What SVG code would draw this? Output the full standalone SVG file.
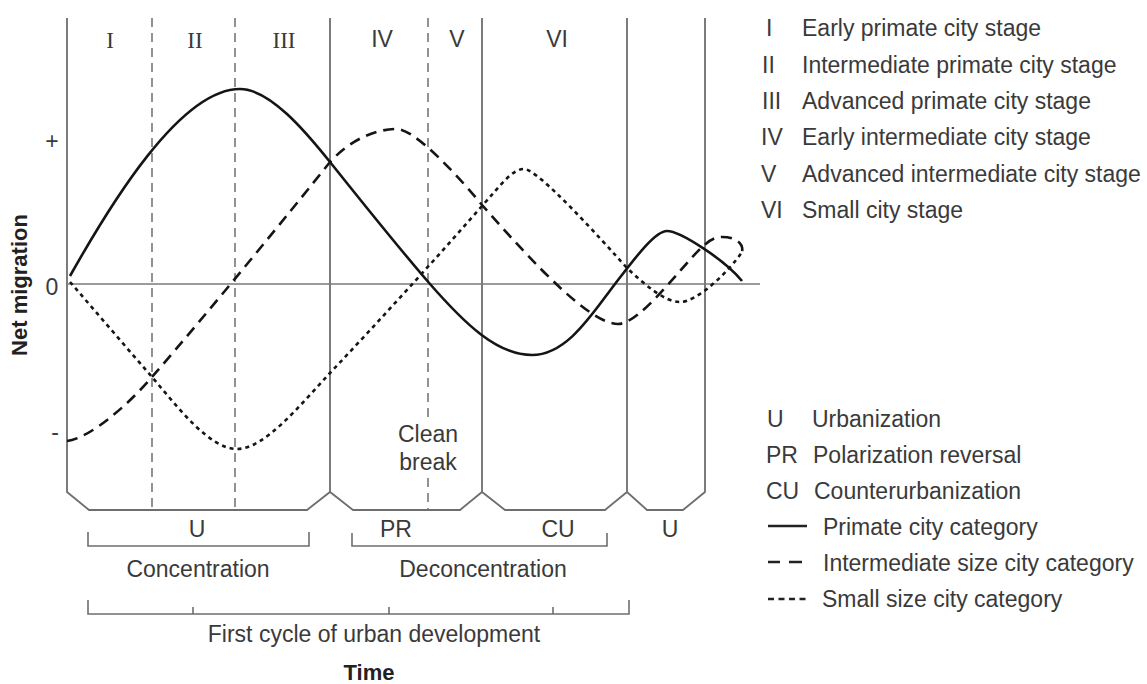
<svg xmlns="http://www.w3.org/2000/svg" width="1147" height="684" viewBox="0 0 1147 684">
<style>
text{font-family:"Liberation Sans",Arial,sans-serif;font-size:23px;fill:#3a3a3a}
.serif{font-family:"Liberation Serif","Times New Roman",serif;font-size:23px}
.b{font-weight:bold;font-size:22px;fill:#222}
.mid{text-anchor:middle}
.frame{fill:none;stroke:#6e6e6e;stroke-width:1.8}
.vdash{fill:none;stroke:#777;stroke-width:1.6;stroke-dasharray:9 6}
.axis{fill:none;stroke:#7a7a7a;stroke-width:1.6}
.primate{fill:none;stroke:#151515;stroke-width:2.6}
.inter{fill:none;stroke:#151515;stroke-width:2.6;stroke-dasharray:11 7}
.small{fill:none;stroke:#151515;stroke-width:2.6;stroke-dasharray:4 4}
.brk{fill:none;stroke:#6e6e6e;stroke-width:1.6}
</style>
<rect width="1147" height="684" fill="#fff"/>
<g id="frame">
<path class="frame" d="M67,18 V492 L89,510 H307 L330,492 L353,510 H460 L482,492 L505,510 H605 L627,492 L647,510 H683 L705,492 V18 M330,18 V492 M482,18 V492 M627,18 V492"/>
<path class="vdash" d="M152,18 V510 M235,18 V510 M428,18 V420 M428,478 V510"/>
<path class="axis" d="M67,284 H760"/>
</g>
<g id="stage-labels">
<text class="serif mid" x="110" y="48">I</text>
<text class="serif mid" x="195" y="48">II</text>
<text class="serif mid" x="284" y="48">III</text>
<text class="mid" x="382" y="47">IV</text>
<text class="mid" x="457" y="47">V</text>
<text class="mid" x="557" y="47">VI</text>
</g>
<g id="y-axis">
<text class="mid" x="52" y="149">+</text>
<text class="mid" x="52" y="295">0</text>
<text class="mid" x="55" y="440">-</text>
<text class="b mid" transform="translate(27,285) rotate(-90)">Net migration</text>
</g>
<g id="curves">
<path id="primate-curve" class="primate" d="M70,276 C110,205 180,89 240,89 C270,89 306,132 330,162 C363,203 397,246 430,284 C465,324 497,355 532,355 C567,355 592,314 615,284 C635,258 655,231 667,231 C680,231 725,260 742,281"/>
<path id="intermediate-curve" class="inter" d="M67,441 C90,438 127,406 152,377 C212,308 290,212 330,162 C350,140 375,129 397,129 C415,129 460,178 482,205 C535,265 590,324 618,324 C640,324 680,268 702,247 C710,240 715,237 722,237 C735,237 744,243 742,252"/>
<path id="small-curve" class="small" d="M70,282 C97,313 125,346 152,377 C180,410 210,449 237,449 C265,449 300,405 330,373 C380,320 432,263 482,206 C500,186 512,169 524,169 C538,169 600,238 627,268 C645,285 665,302 680,302 C698,302 730,270 742,252"/>
</g>
<g id="clean-break">
<text class="mid" x="428" y="442">Clean</text>
<text class="mid" x="428" y="470">break</text>
</g>
<g id="phase-labels">
<text class="mid" x="197" y="537">U</text>
<text class="mid" x="396" y="537">PR</text>
<text class="mid" x="558" y="537">CU</text>
<text class="mid" x="670" y="537">U</text>
</g>
<g id="brackets">
<path class="brk" d="M88,532 V546 H309 V532"/>
<path class="brk" d="M352,533 V546 H607 V533"/>
<path class="brk" d="M88,600 V614 H629 V600 M193,607 V614 M389,607 V614 M553,607 V614"/>
<text class="mid" x="198" y="577">Concentration</text>
<text class="mid" x="483" y="577">Deconcentration</text>
<text class="mid" x="374" y="642">First cycle of urban development</text>
<text class="b mid" x="369" y="680">Time</text>
</g>
<g id="legend-stages">
<text x="766" y="36">I</text><text x="802" y="36">Early primate city stage</text>
<text x="762" y="72.5">II</text><text x="802" y="72.5">Intermediate primate city stage</text>
<text x="762" y="108.5">III</text><text x="802" y="108.5">Advanced primate city stage</text>
<text x="761" y="145">IV</text><text x="802" y="145">Early intermediate city stage</text>
<text x="761" y="181.5">V</text><text x="802" y="181.5">Advanced intermediate city stage</text>
<text x="761" y="218">VI</text><text x="802" y="218">Small city stage</text>
</g>
<g id="legend-phases">
<text x="767" y="427">U</text><text x="812" y="427">Urbanization</text>
<text x="766" y="463">PR</text><text x="813" y="463">Polarization reversal</text>
<text x="766" y="499">CU</text><text x="814" y="499">Counterurbanization</text>
<path d="M768,526 H807" stroke="#222" stroke-width="2.4"/>
<text x="823" y="535">Primate city category</text>
<path d="M768,562 H780 M789,562 H802" stroke="#222" stroke-width="2.4"/>
<text x="823" y="571">Intermediate size city category</text>
<path d="M768,599 H808" stroke="#222" stroke-width="2.4" stroke-dasharray="6 4.5"/>
<text x="822" y="607">Small size city category</text>
</g>
</svg>
